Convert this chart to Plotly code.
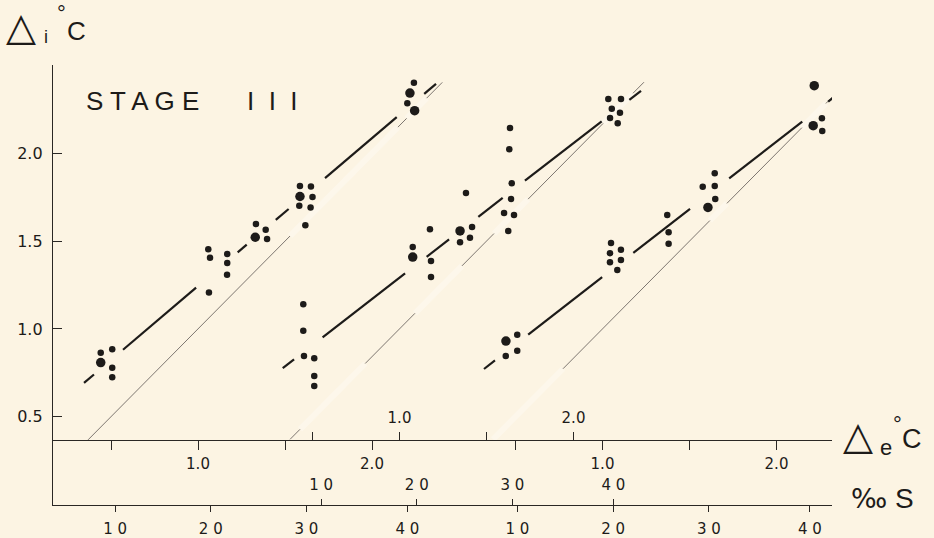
import plotly.graph_objects as go

# ---------------- data ----------------
# Stage III: internal freezing-point depression (Δi) against the external one (Δe).
# Three series, each drawn on its own (shifted) Δe scale.
# n = number of coincident observations at a dot (2 -> larger dot)

g1_de = [0.441, 0.441, 0.507, 0.507, 0.507,
         1.059, 1.069, 1.063, 1.168, 1.168, 1.167,
         1.333, 1.329, 1.389, 1.397,
         1.586, 1.649, 1.586, 1.658, 1.582, 1.647, 1.617,
         2.241, 2.218, 2.203, 2.245]
g1_di = [0.864, 0.808, 0.884, 0.779, 0.724,
         1.453, 1.405, 1.208, 1.427, 1.375, 1.309,
         1.597, 1.522, 1.565, 1.512,
         1.814, 1.811, 1.754, 1.751, 1.702, 1.692, 1.590,
         2.402, 2.343, 2.285, 2.243]
g1_n = [1, 2, 1, 1, 1,
        1, 1, 1, 1, 1, 1,
        1, 2, 1, 1,
        1, 1, 2, 1, 1, 1, 1,
        1, 2, 1, 2]

g2_de = [0.447, 0.447, 0.451, 0.510, 0.510, 0.510,
         1.076, 1.076, 1.175, 1.181, 1.181,
         1.382, 1.348, 1.417, 1.405, 1.348,
         1.635, 1.631, 1.645, 1.641, 1.601, 1.658, 1.625,
         2.200, 2.273, 2.220, 2.267, 2.210, 2.254]
g2_di = [1.140, 0.990, 0.846, 0.833, 0.732, 0.675,
         1.466, 1.409, 1.567, 1.387, 1.296,
         1.774, 1.558, 1.580, 1.519, 1.493,
         2.144, 2.023, 1.829, 1.740, 1.660, 1.649, 1.558,
         2.309, 2.309, 2.254, 2.231, 2.201, 2.171]
g2_n = [1, 1, 1, 1, 1, 1,
        1, 2, 1, 1, 1,
        1, 2, 1, 1, 1,
        1, 1, 1, 1, 1, 1, 1,
        1, 1, 1, 1, 1, 1]

g3_de = [0.445, 0.510, 0.444, 0.510,
         1.049, 1.106, 1.043, 1.043, 1.106, 1.085,
         1.372, 1.380, 1.380,
         1.645, 1.576, 1.645, 1.648, 1.606,
         2.217, 2.211, 2.261, 2.263]
g3_di = [0.931, 0.967, 0.846, 0.876,
         1.489, 1.451, 1.431, 1.379, 1.392, 1.335,
         1.649, 1.550, 1.485,
         1.886, 1.810, 1.814, 1.740, 1.692,
         2.385, 2.157, 2.199, 2.127]
g3_n = [2, 1, 1, 1,
        1, 1, 1, 1, 1, 1,
        1, 1, 1,
        1, 1, 1, 1, 2,
        2, 2, 1, 1]

# fitted lines  Δi = a + b·Δe
fit_a = [0.402, 0.524, 0.526]
fit_b = [0.842, 0.767, 0.770]
# Δe spans over which each fitted line is inked (broken around the dot clusters)
fit_spans = [
    [(0.345, 0.402), (0.569, 0.989), (1.228, 1.280), (1.447, 1.521), (1.730, 2.142), (2.300, 2.368)],
    [(0.329, 0.394), (0.558, 1.032), (1.156, 1.285), (1.453, 1.593), (1.721, 2.162), (2.321, 2.388)],
    [(0.319, 0.382), (0.573, 0.998), (1.177, 1.503), (1.728, 2.148), (2.297, 2.369)],
]
# isosmotic line Δi = Δe: overall extent and the inked parts
iso_extent = [(0.368, 2.404), (0.371, 2.405), (0.371, 2.393)]
iso_spans = [
    [(0.368, 1.529), (2.149, 2.199), (2.314, 2.404)],
    [(0.371, 0.428), (0.803, 1.089), (1.359, 1.543), (1.739, 2.170), (2.342, 2.405)],
    [(0.773, 1.617), (1.715, 2.146), (2.284, 2.393)],
]

# axis ticks
NB = "\u00a0"
di_ticks = [0.5, 1.0, 1.5, 2.0]
di_labels = ["0.5", "1.0", "1.5", "2.0"]
de_ticks = [0.5, 1.0, 1.5, 2.0]
de_labels = ["", "1.0", "", "2.0"]
sal_ticks = [10, 20, 30, 40]
sal_as_de = [0.52, 1.07, 1.62, 2.20]   # Δe of sea water at each salinity
sal_labels = [f"{s // 10}{NB}{s % 10}" for s in sal_ticks]

# ---------------- layout geometry (pixels) ----------------
W, H = 934, 538
X_LEFT, X_RIGHT = 52, 832          # extent of the horizontal scales
Y_TOP, Y_BOT = 65, 505              # extent of the Δi scale
Y_DE, Y_SAL = 440, 505              # heights of the Δe and ‰S scale lines
PX_PER_DEG_X = 174.0
PY_PER_DEG = 175.6
Y_AT_2 = 153.3                      # pixel row of Δi = 2.0
DE_ORIGIN = [198.0, 399.5, 602.5]   # pixel column of Δe = 1.0 on each shifted scale
SAL_ORIGIN = [198.6, 404.6, 601.0]

INK = "#1d1b19"
BG = "#FCF4E3"
FONT = "Liberation Sans, Arial, Helvetica, sans-serif"
TICKFONT = "DejaVu Sans, Liberation Sans, sans-serif"


def px(x):
    return x / W


def py(y):
    return 1 - y / H


def xrange_for(origin):
    return [1 + (X_LEFT - origin) / PX_PER_DEG_X, 1 + (X_RIGHT - origin) / PX_PER_DEG_X]


y_range = [2 - (Y_BOT - Y_AT_2) / PY_PER_DEG, 2 + (Y_AT_2 - Y_TOP) / PY_PER_DEG]


def spans_to_xy(spans, a, b):
    xs, ys = [], []
    for lo, hi in spans:
        xs += [lo, hi, None]
        ys += [a + b * lo, a + b * hi, None]
    return xs, ys


def complement(extent, spans):
    out, cur = [], extent[0]
    for lo, hi in sorted(spans):
        if lo > cur:
            out.append((cur, lo))
        cur = max(cur, hi)
    if cur < extent[1]:
        out.append((cur, extent[1]))
    return out


fig = go.Figure()

groups = [(g1_de, g1_di, g1_n), (g2_de, g2_di, g2_n), (g3_de, g3_di, g3_n)]
xaxis_ids = ["x", "x2", "x3"]

for k, (de, di, n) in enumerate(groups):
    xa = xaxis_ids[k]
    # retouched-out stretches of the isosmotic line
    gx, gy = spans_to_xy(complement(iso_extent[k], iso_spans[k]), 0.0, 1.0)
    fig.add_trace(go.Scatter(x=gx, y=gy, xaxis=xa, yaxis="y", mode="lines",
                             line=dict(color="rgba(255,255,255,0.28)", width=6),
                             hoverinfo="skip", showlegend=False))
    ix, iy = spans_to_xy(iso_spans[k], 0.0, 1.0)
    fig.add_trace(go.Scatter(x=ix, y=iy, xaxis=xa, yaxis="y", mode="lines",
                             line=dict(color="#7d7670", width=1),
                             hoverinfo="skip", showlegend=False))
    fx, fy = spans_to_xy(fit_spans[k], fit_a[k], fit_b[k])
    fig.add_trace(go.Scatter(x=fx, y=fy, xaxis=xa, yaxis="y", mode="lines",
                             line=dict(color=INK, width=2.2),
                             hoverinfo="skip", showlegend=False))
    fig.add_trace(go.Scatter(x=de, y=di, xaxis=xa, yaxis="y", mode="markers",
                             marker=dict(size=[6.5 if c == 1 else 9.5 for c in n],
                                         color=INK, opacity=1, line=dict(width=0)),
                             showlegend=False))

# invisible carriers so the salinity scales are laid out
for k, xa in enumerate(["x4", "x5", "x6"]):
    fig.add_trace(go.Scatter(x=sal_as_de, y=[0.0] * len(sal_as_de), xaxis=xa, yaxis="y",
                             mode="markers", marker=dict(opacity=0),
                             hoverinfo="skip", showlegend=False))

tickfont = dict(family=TICKFONT, size=15, color=INK)
axis_common = dict(showgrid=False, zeroline=False, linecolor="#2a2724", linewidth=1.3,
                   tickcolor="#2a2724", tickwidth=1.2, tickfont=tickfont,
                   domain=[px(X_LEFT), px(X_RIGHT)], anchor="free", fixedrange=True)

layout = dict(
    width=W, height=H,
    margin=dict(l=0, r=0, t=0, b=0),
    paper_bgcolor=BG, plot_bgcolor=BG,
    showlegend=False,
    yaxis=dict(range=y_range, domain=[py(Y_BOT), py(Y_TOP)], anchor="free",
               position=px(X_LEFT), showgrid=False, zeroline=False,
               showline=True, linecolor="#2a2724", linewidth=1.3,
               ticks="inside", ticklen=9, tickcolor="#2a2724", tickwidth=1.2,
               tickvals=di_ticks, ticktext=di_labels,
               tickfont=dict(family=TICKFONT, size=16, color=INK),
               ticklabelstandoff=6, fixedrange=True),
    xaxis=dict(axis_common, range=xrange_for(DE_ORIGIN[0]), position=py(Y_DE), side="bottom",
               showline=True, ticks="outside", ticklen=9,
               tickvals=de_ticks, ticktext=de_labels, ticklabelstandoff=1),
    xaxis2=dict(axis_common, range=xrange_for(DE_ORIGIN[1]), position=py(Y_DE), side="top",
                overlaying="x", showline=False, ticks="outside", ticklen=8,
                tickvals=de_ticks, ticktext=de_labels, ticklabelstandoff=3),
    xaxis3=dict(axis_common, range=xrange_for(DE_ORIGIN[2]), position=py(Y_DE), side="bottom",
                overlaying="x", showline=False, ticks="outside", ticklen=9,
                tickvals=de_ticks, ticktext=de_labels, ticklabelstandoff=1),
    xaxis4=dict(axis_common, range=xrange_for(SAL_ORIGIN[0]), position=py(Y_SAL), side="bottom",
                overlaying="x", showline=True, ticks="outside", ticklen=6,
                tickvals=sal_as_de, ticktext=sal_labels, ticklabelstandoff=4),
    xaxis5=dict(axis_common, range=xrange_for(SAL_ORIGIN[1]), position=py(Y_SAL), side="top",
                overlaying="x", showline=False, ticks="outside", ticklen=6,
                tickvals=sal_as_de, ticktext=sal_labels, ticklabelstandoff=3),
    xaxis6=dict(axis_common, range=xrange_for(SAL_ORIGIN[2]), position=py(Y_SAL), side="bottom",
                overlaying="x", showline=False, ticks="outside", ticklen=6,
                tickvals=sal_as_de, ticktext=sal_labels, ticklabelstandoff=4),
)
fig.update_layout(**layout)


def label(text, x, y, size, family=FONT, xanchor="left", yanchor="middle"):
    fig.add_annotation(text=text, x=px(x), y=py(y), xref="paper", yref="paper",
                       xanchor=xanchor, yanchor=yanchor, showarrow=False,
                       font=dict(family=family, size=size, color=INK))


SYM = "DejaVu Sans, sans-serif"
# Δi °C (vertical scale title)
label("△", 4, 26, 39, family=SYM)
label("i", 42, 37, 18)
label("°", 55, 13, 22)
label("C", 65, 31, 26)
# Δe °C (temperature scale title)
label("△", 841, 436, 39, family=SYM)
label("e", 878, 447, 22)
label("°", 891, 424, 22)
label("C", 900, 439, 27)
# ‰ S (salinity scale title)
label("‰", 849, 498, 27, family=SYM)
label("S", 893, 498, 28)
# panel title
label("S T A G E", 84, 101, 26)
label(f"I{NB}{NB}I{NB}{NB}I", 245, 101, 26)

fig.write_html("out.html")
